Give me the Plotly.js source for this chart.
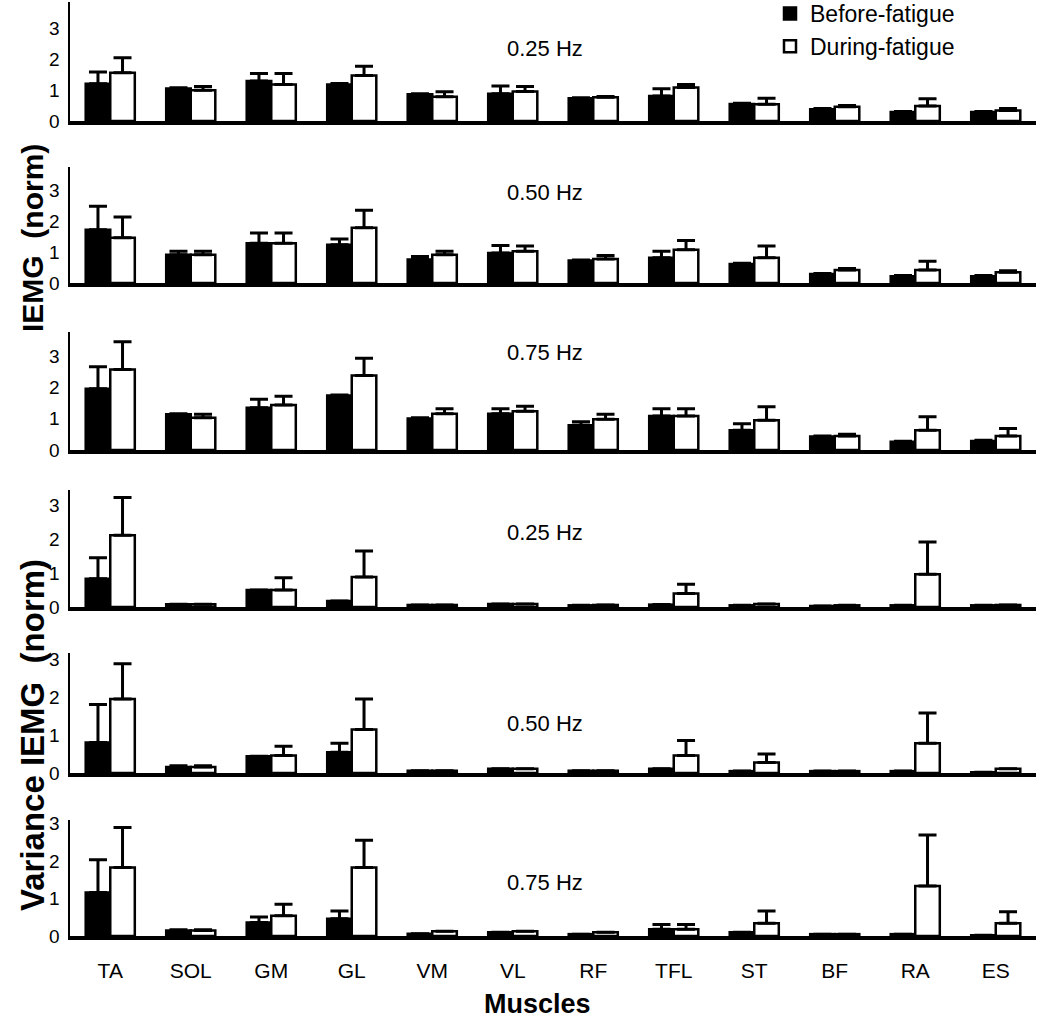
<!DOCTYPE html>
<html>
<head>
<meta charset="utf-8">
<script src="https://cdn.plot.ly/plotly-3.0.1.min.js"></script>
<style>html,body{margin:0;padding:0;background:#fff;}#chart{width:1050px;height:1020px;}</style>
</head>
<body>
<div id="chart"></div>
<script>
// ---------- DATA ----------
const muscles = ['TA','SOL','GM','GL','VM','VL','RF','TFL','ST','BF','RA','ES'];
const seriesNames = ['Before-fatigue','During-fatigue'];
const panelLabels = ['0.25 Hz','0.50 Hz','0.75 Hz','0.25 Hz','0.50 Hz','0.75 Hz'];
const yTickVals = [0,1,2,3];

// IEMG (norm) 0.25 Hz
const iemg025Before    = [1.20,1.05,1.29,1.18,0.86,0.88,0.73,0.81,0.55,0.38,0.29,0.29];
const iemg025BeforeErr = [0.38,0.02,0.24,0.03,0.02,0.25,0.02,0.23,0.02,0.02,0.02,0.02];
const iemg025During    = [1.56,0.99,1.18,1.47,0.78,0.95,0.77,1.08,0.54,0.46,0.48,0.34];
const iemg025DuringErr = [0.48,0.12,0.35,0.30,0.16,0.16,0.02,0.10,0.19,0.04,0.24,0.06];
// IEMG (norm) 0.50 Hz
const iemg050Before    = [1.73,0.92,1.29,1.24,0.76,0.97,0.73,0.82,0.62,0.29,0.22,0.22];
const iemg050BeforeErr = [0.76,0.11,0.33,0.19,0.10,0.25,0.02,0.21,0.02,0.02,0.02,0.02];
const iemg050During    = [1.47,0.92,1.29,1.79,0.92,1.03,0.78,1.08,0.82,0.42,0.42,0.35];
const iemg050DuringErr = [0.67,0.11,0.33,0.57,0.11,0.17,0.11,0.30,0.38,0.05,0.29,0.05];
// IEMG (norm) 0.75 Hz
const iemg075Before    = [1.96,1.14,1.35,1.74,1.01,1.16,0.79,1.09,0.63,0.43,0.26,0.29];
const iemg075BeforeErr = [0.70,0.02,0.27,0.02,0.02,0.16,0.11,0.23,0.21,0.02,0.02,0.02];
const iemg075During    = [2.57,1.03,1.44,2.38,1.16,1.24,0.98,1.09,0.95,0.45,0.63,0.45];
const iemg075DuringErr = [0.89,0.11,0.28,0.55,0.16,0.16,0.16,0.23,0.43,0.05,0.43,0.24];
// Variance IEMG (norm) 0.25 Hz
const var025Before     = [0.83,0.08,0.50,0.18,0.06,0.09,0.05,0.07,0.05,0.03,0.05,0.05];
const var025BeforeErr  = [0.62,0,0,0,0,0,0,0,0,0,0,0];
const var025During     = [2.11,0.08,0.50,0.88,0.06,0.09,0.06,0.40,0.09,0.05,0.96,0.06];
const var025DuringErr  = [1.11,0,0.36,0.77,0,0,0,0.27,0,0,0.95,0];
// Variance IEMG (norm) 0.50 Hz
const var050Before     = [0.81,0.16,0.44,0.55,0.06,0.11,0.06,0.11,0.05,0.05,0.05,0.02];
const var050BeforeErr  = [1.00,0.03,0,0.24,0,0,0,0,0,0,0,0];
const var050During     = [1.96,0.16,0.46,1.15,0.06,0.11,0.06,0.46,0.28,0.05,0.79,0.11];
const var050DuringErr  = [0.93,0.03,0.25,0.81,0,0,0,0.40,0.22,0,0.80,0];
// Variance IEMG (norm) 0.75 Hz
const var075Before     = [1.16,0.15,0.36,0.46,0.06,0.10,0.05,0.18,0.10,0.05,0.05,0.02];
const var075BeforeErr  = [0.88,0.02,0.15,0.21,0,0,0,0.13,0,0,0,0];
const var075During     = [1.83,0.15,0.54,1.83,0.13,0.13,0.10,0.18,0.34,0.05,1.34,0.34];
const var075DuringErr  = [1.07,0.02,0.31,0.73,0,0,0,0.13,0.33,0,1.36,0.31];

const panelData = [
  [iemg025Before, iemg025BeforeErr, iemg025During, iemg025DuringErr],
  [iemg050Before, iemg050BeforeErr, iemg050During, iemg050DuringErr],
  [iemg075Before, iemg075BeforeErr, iemg075During, iemg075DuringErr],
  [var025Before,  var025BeforeErr,  var025During,  var025DuringErr],
  [var050Before,  var050BeforeErr,  var050During,  var050DuringErr],
  [var075Before,  var075BeforeErr,  var075During,  var075DuringErr]
];

// ---------- LAYOUT GEOMETRY (pixels) ----------
const W = 1050, H = 1020, ML = 70, MR = 14;
const PW = W - ML - MR;
const geo = [
  {top: 2,   base: 121, unit: 31.0, label: 48},
  {top: 167, base: 283, unit: 30.8, label: 192},
  {top: 332, base: 450, unit: 31.3, label: 352},
  {top: 490, base: 607, unit: 34.0, label: 532},
  {top: 653, base: 773, unit: 37.8, label: 723},
  {top: 820, base: 936, unit: 37.4, label: 882}
];
const FONT = '"Liberation Sans", Arial, Helvetica, sans-serif';
const px2x = p => (p - ML) / PW;
const py2y = p => 1 - p / H;

const traces = [];
const layout = {
  width: W, height: H,
  margin: {l: ML, r: MR, t: 0, b: 0, autoexpand: false},
  paper_bgcolor: '#fff', plot_bgcolor: 'rgba(0,0,0,0)',
  barmode: 'group', bargap: 0.39, bargroupgap: 0,
  font: {family: FONT, color: '#000'},
  showlegend: true,
  legend: {x: px2x(770), y: py2y(-8), xanchor: 'left', yanchor: 'top',
           font: {family: FONT, size: 23, color: '#000'}, bgcolor: 'rgba(0,0,0,0)',
           tracegroupgap: 0, itemwidth: 30},
  annotations: [],
  hovermode: false
};

geo.forEach((g, i) => {
  const n = i + 1;
  const xa = 'x' + (n === 1 ? '' : n), ya = 'y' + (n === 1 ? '' : n);
  const d = panelData[i];
  [0, 1].forEach(s => {
    traces.push({
      type: 'bar', name: seriesNames[s], x: muscles, y: d[s * 2],
      xaxis: xa, yaxis: ya, legendgroup: seriesNames[s], showlegend: i === 0,
      marker: {color: s === 0 ? '#000' : '#fff', line: {color: '#000', width: 2.5}},
      error_y: {type: 'data', array: d[s * 2 + 1], symmetric: false, arrayminus: muscles.map(() => 0),
                color: '#000', thickness: 3, width: 9}
    });
  });
  layout['xaxis' + (n === 1 ? '' : n)] = {
    domain: [0, 1], anchor: ya, type: 'category', categoryorder: 'array', categoryarray: muscles,
    range: [-0.5, 11.5], showline: true, linewidth: 4, linecolor: '#000', ticks: '',
    showticklabels: n === 6, tickfont: {family: FONT, size: 21, color: '#000'},
    ticklabelstandoff: 13, showgrid: false, zeroline: false, fixedrange: true, automargin: false
  };
  layout['yaxis' + (n === 1 ? '' : n)] = {
    domain: [py2y(g.base), py2y(g.top)], anchor: xa, range: [0, (g.base - g.top) / g.unit],
    tickvals: yTickVals, ticktext: yTickVals.map(String), showline: true, linewidth: 2.5, linecolor: '#000',
    ticks: '', showgrid: false, zeroline: false, tickfont: {family: FONT, size: 19, color: '#000'},
    ticklabelstandoff: 4, fixedrange: true, automargin: false
  };
  layout.annotations.push({
    xref: 'paper', yref: 'paper', x: px2x(545), y: py2y(g.label), xanchor: 'center', yanchor: 'middle',
    text: panelLabels[i], showarrow: false, font: {family: FONT, size: 22, color: '#000'}
  });
});

layout.annotations.push(
  {xref: 'paper', yref: 'paper', x: px2x(32), y: py2y(238), xanchor: 'center', yanchor: 'middle',
   text: '<b>IEMG\u00a0\u00a0(norm)</b>', textangle: -90, showarrow: false,
   font: {family: FONT, size: 30, color: '#000'}},
  {xref: 'paper', yref: 'paper', x: px2x(32), y: py2y(735), xanchor: 'center', yanchor: 'middle',
   text: '<b>Variance IEMG\u00a0\u00a0(norm)</b>', textangle: -90, showarrow: false,
   font: {family: FONT, size: 33, color: '#000'}},
  {xref: 'paper', yref: 'paper', x: px2x(537), y: py2y(1004), xanchor: 'center', yanchor: 'middle',
   text: '<b>Muscles</b>', showarrow: false, font: {family: FONT, size: 27, color: '#000'}}
);

Plotly.newPlot('chart', traces, layout, {staticPlot: true, displayModeBar: false});
</script>
</body>
</html>
